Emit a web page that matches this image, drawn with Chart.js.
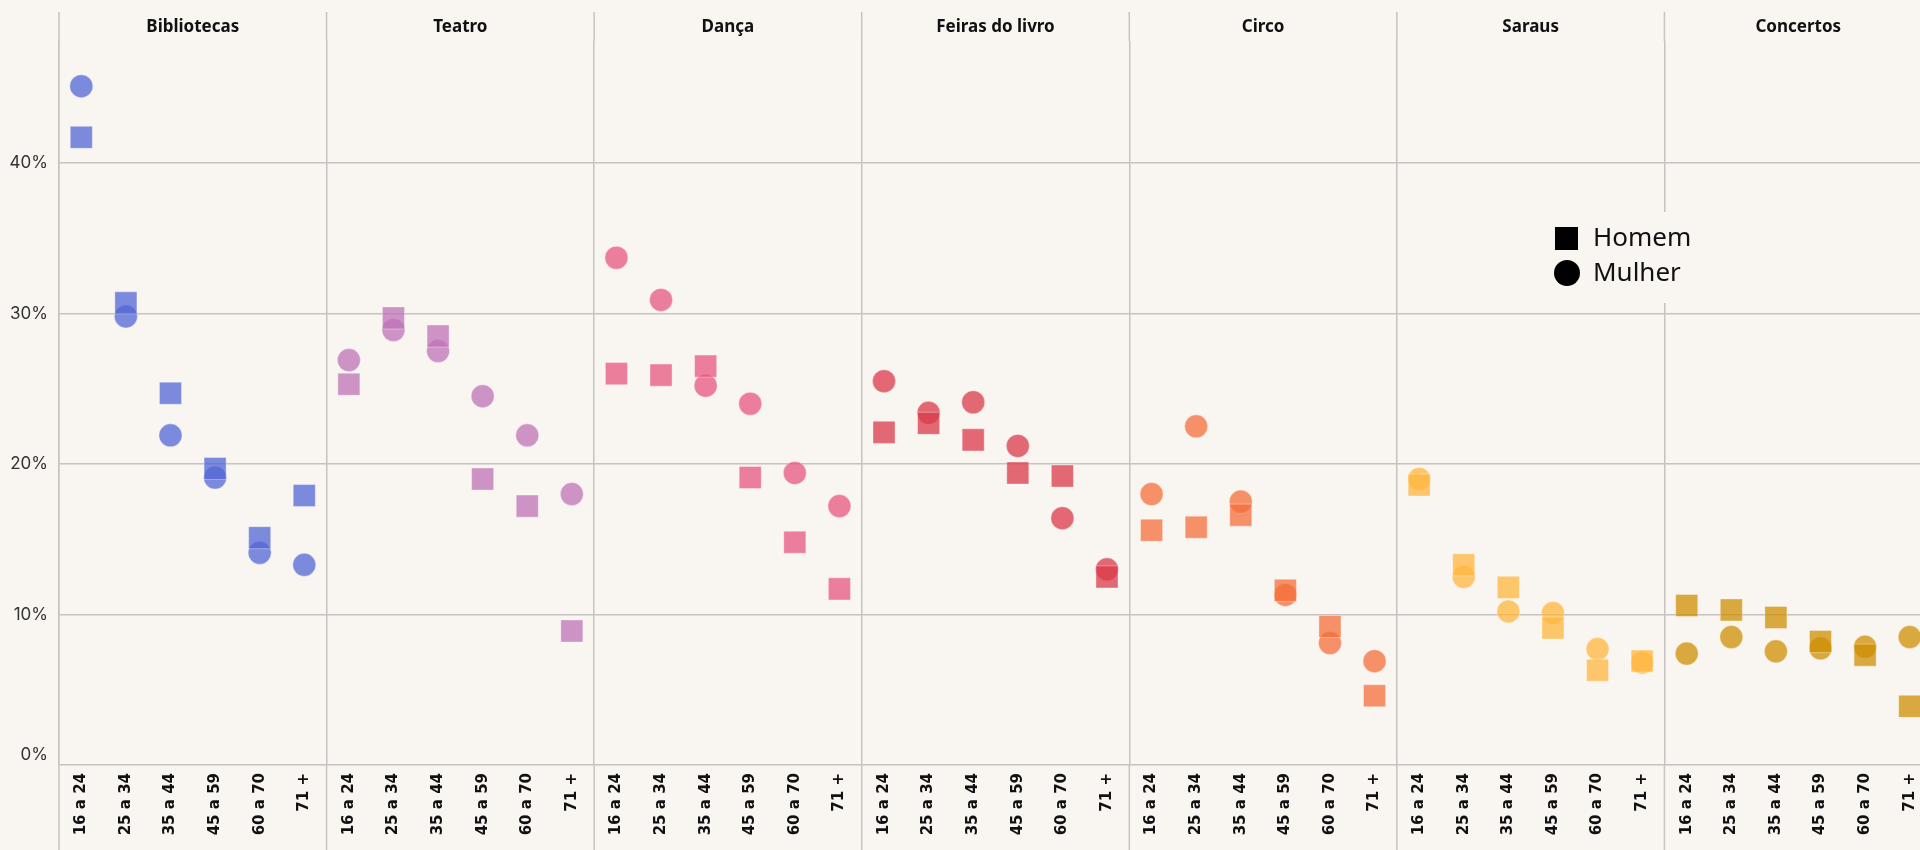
<!DOCTYPE html>
<html lang="pt">
  <head>
    <meta charset="UTF-8" />
    <title>Participação cultural por idade e sexo</title>
    <style>
      html, body { margin: 0; padding: 0; background: #f9f5f1; overflow: hidden; }
      canvas { display: block; }
    </style>
  </head>
  <body>
    <canvas id="chart" width="1932" height="850"></canvas>

    <script src="https://cdn.jsdelivr.net/npm/chart.js@4.4.0/dist/chart.umd.min.js"></script>
    <script>
      // Categories
      const activities = ["Bibliotecas", "Teatro", "Dança", "Feiras do livro", "Circo", "Saraus", "Concertos"];
      const ageGroups = ["16 a 24", "25 a 34", "35 a 44", "45 a 59", "60 a 70", "71 +"];
      const yTicks = [0, 10, 20, 30, 40];

      // Values (%) per activity, by age group
      const bibliotecasHomem = [41.7, 30.7, 24.7, 19.7, 15.1, 17.9];
      const bibliotecasMulher = [45.1, 29.8, 21.9, 19.1, 14.1, 13.3];
      const teatroHomem = [25.3, 29.7, 28.5, 19.0, 17.2, 8.9];
      const teatroMulher = [26.9, 28.9, 27.5, 24.5, 21.9, 18.0];
      const dancaHomem = [26.0, 25.9, 26.5, 19.1, 14.8, 11.7];
      const dancaMulher = [33.7, 30.9, 25.2, 24.0, 19.4, 17.2];
      const feirasHomem = [22.1, 22.7, 21.6, 19.4, 19.2, 12.5];
      const feirasMulher = [25.5, 23.4, 24.1, 21.2, 16.4, 13.0];
      const circoHomem = [15.6, 15.8, 16.6, 11.6, 9.2, 4.6];
      const circoMulher = [18.0, 22.5, 17.5, 11.3, 8.1, 6.9];
      const sarausHomem = [18.6, 13.3, 11.8, 9.1, 6.3, 6.9];
      const sarausMulher = [19.0, 12.5, 10.2, 10.1, 7.7, 6.8];
      const concertosHomem = [10.6, 10.3, 9.8, 8.2, 7.3, 3.9];
      const concertosMulher = [7.4, 8.5, 7.55, 7.75, 7.85, 8.5];

      const homemSeries = [bibliotecasHomem, teatroHomem, dancaHomem, feirasHomem, circoHomem, sarausHomem, concertosHomem];
      const mulherSeries = [bibliotecasMulher, teatroMulher, dancaMulher, feirasMulher, circoMulher, sarausMulher, concertosMulher];

      const activityColors = [
        "rgba(80, 101, 212, 0.75)",
        "rgba(189, 113, 181, 0.75)",
        "rgba(230, 85, 124, 0.75)",
        "rgba(218, 57, 73, 0.75)",
        "rgba(244, 110, 58, 0.75)",
        "rgba(255, 182, 61, 0.75)",
        "rgba(205, 142, 2, 0.75)",
      ];

      const bg = "#f9f5f1";
      const gridColor = "#c6c3c0";

      // one x slot per (activity, age group)
      const labels = activities.flatMap(() => ageGroups);
      const n = ageGroups.length;

      function panelData(values, p) {
        return labels.map((_, i) => (Math.floor(i / n) === p ? values[i % n] : null));
      }

      const datasets = [];
      activities.forEach((name, p) => {
        datasets.push({
          label: name + " - Homem",
          data: panelData(homemSeries[p], p),
          pointStyle: "rect",
          pointRadius: 15.6,
          backgroundColor: activityColors[p],
          borderColor: "rgba(255,255,255,0.35)",
          borderWidth: 1,
          showLine: false,
        });
        datasets.push({
          label: name + " - Mulher",
          data: panelData(mulherSeries[p], p),
          pointStyle: "circle",
          pointRadius: 11.5,
          backgroundColor: activityColors[p],
          borderColor: "rgba(255,255,255,0.35)",
          borderWidth: 1,
          showLine: false,
        });
      });

      // Panel boundary pixel from the x scale
      function boundary(x, p) {
        if (p === 0) return x.left;
        return (x.getPixelForValue(p * n - 1) + x.getPixelForValue(p * n)) / 2;
      }

      const panelsPlugin = {
        id: "panels",
        afterDraw(chart) {
          const { ctx, chartArea, scales } = chart;
          const x = scales.x;
          ctx.save();
          ctx.strokeStyle = gridColor;
          ctx.lineWidth = 1.5;
          for (let p = 0; p <= activities.length; p++) {
            const bx = boundary(x, p);
            ctx.beginPath();
            ctx.moveTo(bx, 12);
            ctx.lineTo(bx, chartArea.top);
            ctx.moveTo(bx, chartArea.bottom);
            ctx.lineTo(bx, chart.height);
            ctx.stroke();
          }
          ctx.fillStyle = "#111";
          ctx.font = "bold 17px 'Noto Sans', sans-serif";
          ctx.textAlign = "center";
          ctx.textBaseline = "middle";
          activities.forEach((name, p) => {
            const cx = (boundary(x, p) + boundary(x, p + 1)) / 2;
            ctx.fillText(name, cx, 27);
          });

          // legend
          ctx.fillStyle = bg;
          ctx.fillRect(1540, 212, 160, 91);
          ctx.fillStyle = "#000";
          ctx.fillRect(1555, 227, 23, 23);
          ctx.beginPath();
          ctx.arc(1567, 273, 13, 0, Math.PI * 2);
          ctx.fill();
          ctx.fillStyle = "#111";
          ctx.font = "26px 'Noto Sans', sans-serif";
          ctx.textAlign = "left";
          ctx.fillText("Homem", 1593, 239);
          ctx.fillText("Mulher", 1593, 274);
          ctx.restore();
        },
      };

      new Chart(document.getElementById("chart"), {
        type: "line",
        data: { labels, datasets },
        options: {
          responsive: false,
          animation: false,
          events: [],
          layout: { autoPadding: false, padding: { top: 41, left: 0, right: 0, bottom: 0 } },
          plugins: { legend: { display: false }, tooltip: { enabled: false } },
          scales: {
            x: {
              type: "category",
              offset: true,
              afterFit(scale) {
                scale.height = 85;
                scale.paddingLeft = 0;
                scale.paddingRight = 0;
              },
              grid: {
                offset: true,
                drawTicks: false,
                lineWidth: 1.5,
                color: (c) => (c.index !== undefined && c.index % n === 0 ? gridColor : "transparent"),
              },
              border: { display: false },
              ticks: {
                autoSkip: false,
                minRotation: 90,
                maxRotation: 90,
                padding: 8,
                color: "#111",
                font: { family: "'DejaVu Sans', sans-serif", size: 15, weight: "bold" },
              },
            },
            y: {
              min: 0,
              max: 48.1,
              afterFit(scale) { scale.width = 59; },
              afterBuildTicks(scale) { scale.ticks = yTicks.map((v) => ({ value: v })); },
              grid: { drawTicks: false, color: gridColor, lineWidth: 1.5 },
              border: { display: true, color: gridColor, width: 1.5 },
              ticks: {
                padding: 11,
                color: "#333",
                font: { family: "Inter, sans-serif", size: 17 },
                callback: (v) => (v === 0 ? ["0%", ""] : v + "%"),
              },
            },
          },
        },
        plugins: [panelsPlugin],
      });
    </script>
  </body>
</html>
